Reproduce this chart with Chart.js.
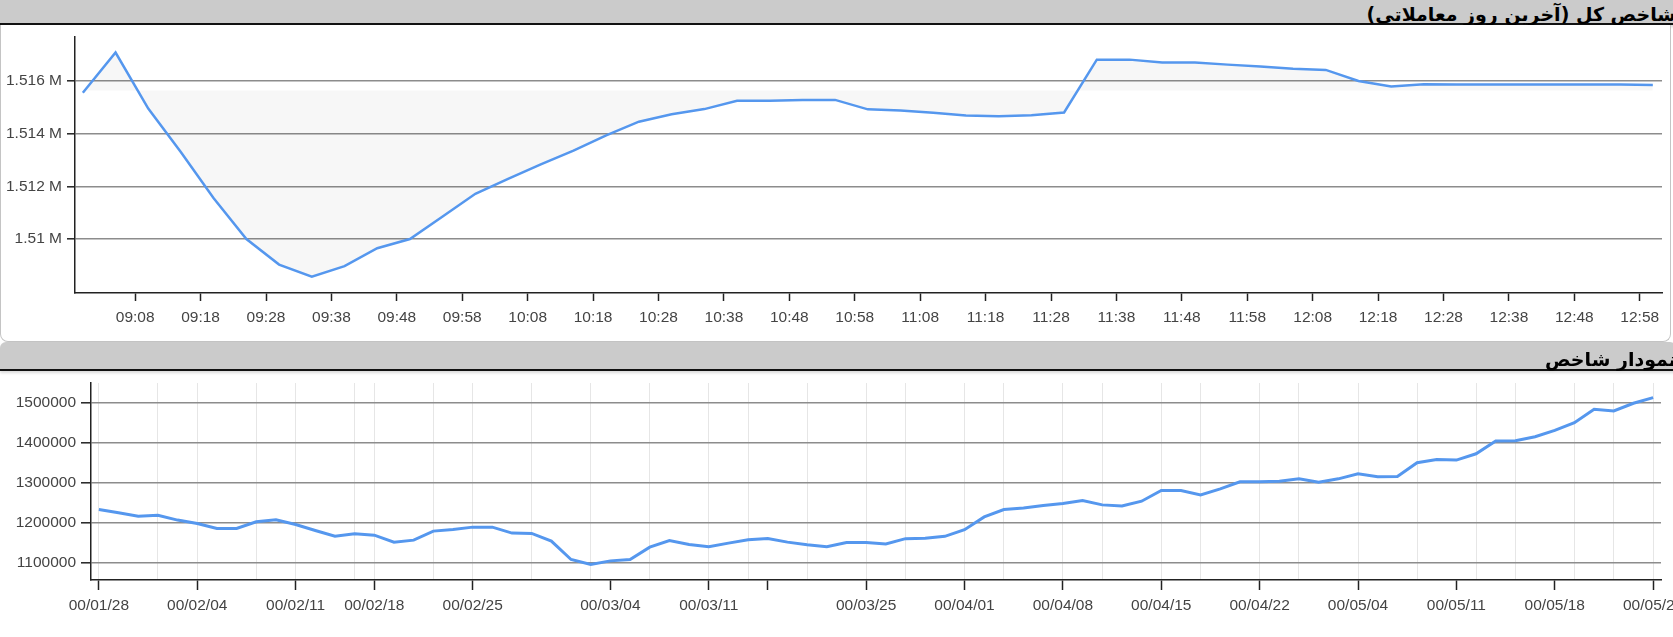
<!DOCTYPE html>
<html>
<head>
<meta charset="utf-8">
<script src="https://cdn.jsdelivr.net/npm/chart.js@4.4.1/dist/chart.umd.min.js"></script>
<style>
  body { margin: 0; width: 1673px; height: 637px; overflow: hidden; background: #fff; position: relative; }
  .head {
    position: absolute; left: 0; width: 1676px; background: #cbcbcb;
    border-bottom: 2px solid #111; box-sizing: content-box;
    font-family: "DejaVu Sans", sans-serif; font-size: 19px; font-weight: bold; color: #000;
    direction: rtl; text-align: right; white-space: nowrap;
    box-shadow: 0 2px 3px rgba(0,0,0,0.15);
  }
  .panel {
    position: absolute; left: 0; width: 1671px; background: #fff;
    border: 1px solid #c4c4c4; border-top: none; box-sizing: border-box;
    border-radius: 0 0 8px 8px;
  }
  canvas { position: absolute; left: 0; }
</style>
</head>
<body>
<div class="head" style="top:0; height:23px; line-height:28px;">شاخص کل (آخرین روز معاملاتی)</div>
<div class="panel" style="top:25px; height:317px;"></div>
<canvas id="intraday" width="1673" height="316" style="top:25px;"></canvas>
<div class="head" style="top:342px; height:27px; line-height:34px; border-radius:6px 6px 0 0;">نمودار شاخص</div>
<canvas id="history" width="1673" height="266" style="top:371px;"></canvas>
<script>
// last trading day, 5-minute snapshots
const times = ['09:00', '09:05', '09:10', '09:15', '09:20', '09:25', '09:30', '09:35', '09:40', '09:45',
  '09:50', '09:55', '10:00', '10:05', '10:10', '10:15', '10:20', '10:25', '10:30', '10:35',
  '10:40', '10:45', '10:50', '10:55', '11:00', '11:05', '11:10', '11:15', '11:20', '11:25',
  '11:30', '11:35', '11:40', '11:45', '11:50', '11:55', '12:00', '12:05', '12:10', '12:15',
  '12:20', '12:25', '12:30', '12:35', '12:40', '12:45', '12:50', '12:55', '13:00'];
const indexValues = [1515560, 1517090, 1514960, 1513300, 1511550, 1510000, 1509030, 1508570, 1508970, 1509650,
  1510000, 1510860, 1511720, 1512290, 1512840, 1513360, 1513940, 1514460, 1514740, 1514940,
  1515260, 1515260, 1515290, 1515290, 1514930, 1514890, 1514800, 1514700, 1514670, 1514710,
  1514810, 1516820, 1516820, 1516710, 1516710, 1516630, 1516560, 1516470, 1516430, 1516010,
  1515800, 1515880, 1515870, 1515870, 1515870, 1515870, 1515870, 1515870, 1515860];
const baseValue = 1515650;
const timeTicks = ['09:08', '09:18', '09:28', '09:38', '09:48', '09:58', '10:08', '10:18', '10:28', '10:38',
  '10:48', '10:58', '11:08', '11:18', '11:28', '11:38', '11:48', '11:58', '12:08', '12:18',
  '12:28', '12:38', '12:48', '12:58'];
const indexTicks = [1510000, 1512000, 1514000, 1516000];

// daily history (trading days)
const historyValues = [1233000, 1225000, 1216500, 1219000, 1206700, 1198300, 1185800, 1185800, 1202500, 1207500,
  1195800, 1180800, 1166500, 1172400, 1169000, 1151500, 1156500, 1179100, 1183300, 1189100,
  1189100, 1174100, 1173200, 1154000, 1108000, 1095400, 1104600, 1108000, 1138900, 1155600,
  1145600, 1139800, 1149000, 1157300, 1160700, 1151500, 1144800, 1139800, 1150600, 1150600,
  1146900, 1160300, 1161100, 1166100, 1182800, 1214600, 1233100, 1237200, 1243100, 1248100,
  1255600, 1244800, 1242300, 1254000, 1280800, 1280800, 1269900, 1284900, 1302500, 1302500,
  1304200, 1310000, 1301700, 1310000, 1322600, 1315100, 1315900, 1350200, 1358600, 1356900,
  1372800, 1404600, 1405400, 1415500, 1431400, 1450600, 1484100, 1479900, 1499200, 1513400];
const dateTickIdx = [0, 5, 10, 14, 19, 26, 31, 34, 39, 44, 49, 54, 59, 64, 69, 74, 79];
const dateTickLabels = ['00/01/28', '00/02/04', '00/02/11', '00/02/18', '00/02/25', '00/03/04', '00/03/11', '',
  '00/03/25', '00/04/01', '00/04/08', '00/04/15', '00/04/22', '00/05/04', '00/05/11', '00/05/18', '00/05/25'];
const minorGridIdx = [0, 3, 5, 8, 10, 13, 14, 17, 19, 22, 25, 28, 31, 33, 36, 39, 41, 44, 46, 49,
  51, 54, 56, 59, 61, 64, 67, 70, 72, 75, 77, 79];
const historyTicks = [1100000, 1200000, 1300000, 1400000, 1500000];

const tickFont = { family: "'Liberation Sans', Arial, sans-serif", size: 15.5 };
const labelColor = '#444';
const axisColor = '#222';
const gridColor = '#8c8c8c';
const lineColor = '#5597ee';

function toMinutes(t) {
  const [h, m] = t.split(':').map(Number);
  return h * 60 + m;
}

new Chart(document.getElementById('intraday'), {
  type: 'line',
  data: {
    datasets: [{
      data: times.map((t, i) => ({ x: toMinutes(t), y: indexValues[i] })),
      borderColor: lineColor,
      borderWidth: 2.5,
      pointRadius: 0,
      tension: 0,
      fill: { value: baseValue },
      backgroundColor: 'rgba(0,0,0,0.032)'
    }]
  },
  options: {
    responsive: false,
    animation: false,
    devicePixelRatio: 1,
    layout: { padding: { top: 12, right: 11, left: 0, bottom: 0 } },
    plugins: { legend: { display: false }, tooltip: { enabled: false } },
    scales: {
      x: {
        type: 'linear',
        min: 538.8,
        max: 781.4,
        afterBuildTicks: s => { s.ticks = timeTicks.map(t => ({ value: toMinutes(t) })); },
        afterFit: s => { s.height = 48; s.paddingLeft = 0; s.paddingRight = 0; },
        ticks: { callback: (v, i) => timeTicks[i], font: tickFont, color: labelColor, padding: 7, maxRotation: 0, autoSkip: false },
        grid: { drawOnChartArea: false, tickColor: axisColor, tickLength: 8, tickWidth: 1.5 },
        border: { color: axisColor, width: 1.5 }
      },
      y: {
        min: 1507950,
        max: 1517680,
        afterBuildTicks: s => { s.ticks = indexTicks.map(v => ({ value: v })); },
        afterFit: s => { s.width = 75; s.paddingTop = 0; s.paddingBottom = 0; },
        ticks: { callback: v => +(v / 1e6).toFixed(3) + ' M', font: tickFont, color: labelColor, padding: 5 },
        grid: { color: gridColor, lineWidth: 1.6, tickColor: axisColor, tickLength: 8, tickWidth: 1.5 },
        border: { color: axisColor, width: 1.5 }
      }
    }
  }
});

const historyXTicks = [...new Set(dateTickIdx.concat(minorGridIdx))].sort((a, b) => a - b);

new Chart(document.getElementById('history'), {
  type: 'line',
  data: {
    datasets: [{
      data: historyValues.map((v, i) => ({ x: i, y: v })),
      borderColor: lineColor,
      borderWidth: 3,
      pointRadius: 0,
      tension: 0,
      fill: false
    }]
  },
  options: {
    responsive: false,
    animation: false,
    devicePixelRatio: 1,
    layout: { padding: { top: 12, right: 12, left: 0, bottom: 0 } },
    plugins: { legend: { display: false }, tooltip: { enabled: false } },
    scales: {
      x: {
        type: 'linear',
        min: -0.4,
        max: 79.4,
        afterBuildTicks: s => { s.ticks = historyXTicks.map(v => ({ value: v })); },
        afterFit: s => { s.height = 57; s.paddingLeft = 0; s.paddingRight = 0; },
        ticks: {
          callback: v => { const k = dateTickIdx.indexOf(v); return k < 0 ? '' : dateTickLabels[k]; },
          font: tickFont, color: labelColor, padding: 6, maxRotation: 0, autoSkip: false
        },
        grid: {
          color: ctx => minorGridIdx.includes(ctx.tick.value) ? '#e6e6e6' : 'rgba(0,0,0,0)',
          tickColor: ctx => dateTickIdx.includes(ctx.tick.value) ? axisColor : 'rgba(0,0,0,0)',
          lineWidth: 1, tickLength: 10, tickWidth: 1.5
        },
        border: { color: axisColor, width: 1.5 }
      },
      y: {
        min: 1056700,
        max: 1550000,
        afterBuildTicks: s => { s.ticks = historyTicks.map(v => ({ value: v })); },
        afterFit: s => { s.width = 91; s.paddingTop = 0; s.paddingBottom = 0; },
        ticks: { callback: v => String(v), font: tickFont, color: labelColor, padding: 5 },
        grid: { color: gridColor, lineWidth: 1.6, tickColor: axisColor, tickLength: 10, tickWidth: 1.5 },
        border: { color: axisColor, width: 1.5 }
      }
    }
  }
});
</script>
</body>
</html>
